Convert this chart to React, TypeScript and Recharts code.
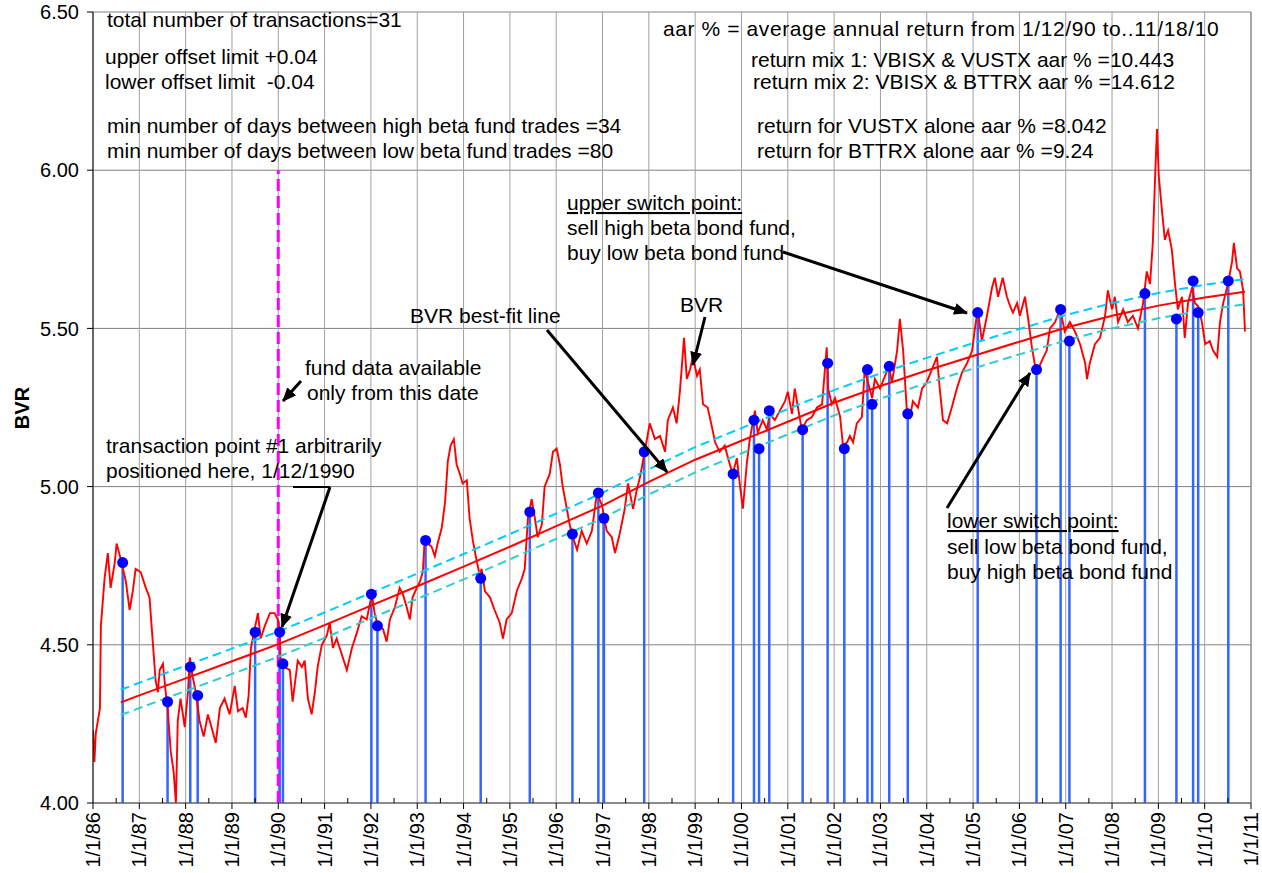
import React from "react";
import { ComposedChart, Line, Scatter, XAxis, YAxis, CartesianGrid, ReferenceLine } from "recharts";

// decimal year, BVR
const bvr: [number, number][] = [
  [1986.0, 4.23], [1986.03, 4.13], [1986.06, 4.22], [1986.15, 4.3], [1986.17, 4.56], [1986.25, 4.71], [1986.32, 4.79],
  [1986.38, 4.68], [1986.47, 4.76], [1986.51, 4.82], [1986.6, 4.77], [1986.71, 4.7], [1986.79, 4.61], [1986.86, 4.67],
  [1986.92, 4.74], [1987.03, 4.73], [1987.14, 4.68], [1987.22, 4.65], [1987.29, 4.51], [1987.35, 4.39], [1987.4, 4.35],
  [1987.44, 4.42], [1987.51, 4.44], [1987.57, 4.35], [1987.61, 4.3], [1987.68, 4.16], [1987.74, 4.1], [1987.79, 4.0],
  [1987.83, 4.26], [1987.89, 4.33], [1987.98, 4.24], [1988.05, 4.35], [1988.09, 4.46], [1988.15, 4.4], [1988.22, 4.35],
  [1988.3, 4.26], [1988.39, 4.21], [1988.48, 4.28], [1988.54, 4.25], [1988.65, 4.19], [1988.74, 4.3], [1988.84, 4.33],
  [1988.95, 4.28], [1989.06, 4.37], [1989.13, 4.29], [1989.23, 4.3], [1989.3, 4.27], [1989.36, 4.34], [1989.41, 4.49],
  [1989.49, 4.55], [1989.56, 4.6], [1989.62, 4.52], [1989.71, 4.56], [1989.82, 4.6], [1989.92, 4.6], [1989.99, 4.58],
  [1990.03, 4.54], [1990.05, 4.45], [1990.14, 4.43], [1990.25, 4.42], [1990.31, 4.32], [1990.42, 4.45], [1990.51, 4.43],
  [1990.57, 4.45], [1990.64, 4.33], [1990.72, 4.28], [1990.79, 4.35], [1990.85, 4.43], [1990.94, 4.5], [1991.05, 4.53],
  [1991.11, 4.57], [1991.18, 4.49], [1991.26, 4.52], [1991.37, 4.47], [1991.48, 4.42], [1991.59, 4.49], [1991.7, 4.54],
  [1991.8, 4.59], [1991.91, 4.58], [1992.02, 4.66], [1992.08, 4.6], [1992.15, 4.56], [1992.26, 4.55], [1992.34, 4.51],
  [1992.41, 4.58], [1992.52, 4.62], [1992.62, 4.68], [1992.69, 4.66], [1992.77, 4.62], [1992.84, 4.58], [1992.9, 4.65],
  [1992.99, 4.68], [1993.06, 4.7], [1993.12, 4.73], [1993.16, 4.83], [1993.23, 4.82], [1993.31, 4.81], [1993.38, 4.78],
  [1993.44, 4.82], [1993.53, 4.87], [1993.6, 4.95], [1993.66, 5.08], [1993.72, 5.13], [1993.79, 5.15], [1993.85, 5.07],
  [1993.92, 5.04], [1993.98, 5.01], [1994.07, 5.02], [1994.13, 4.9], [1994.2, 4.83], [1994.29, 4.76], [1994.35, 4.72],
  [1994.39, 4.74], [1994.46, 4.67], [1994.57, 4.65], [1994.67, 4.61], [1994.78, 4.57], [1994.85, 4.52], [1994.93, 4.58],
  [1995.04, 4.6], [1995.15, 4.67], [1995.26, 4.71], [1995.32, 4.74], [1995.39, 4.9], [1995.47, 4.96], [1995.54, 4.9],
  [1995.6, 4.84], [1995.69, 4.88], [1995.75, 5.0], [1995.86, 5.04], [1995.93, 5.11], [1996.01, 5.12], [1996.08, 5.07],
  [1996.14, 5.0], [1996.23, 4.93], [1996.29, 4.88], [1996.36, 4.84], [1996.45, 4.8], [1996.55, 4.86], [1996.66, 4.82],
  [1996.77, 4.86], [1996.88, 4.98], [1996.99, 4.94], [1997.09, 4.86], [1997.2, 4.84], [1997.27, 4.79], [1997.37, 4.85],
  [1997.48, 4.93], [1997.55, 5.01], [1997.66, 4.93], [1997.74, 4.99], [1997.81, 5.03], [1997.91, 5.11], [1998.02, 5.2],
  [1998.13, 5.15], [1998.24, 5.16], [1998.35, 5.11], [1998.41, 5.21], [1998.52, 5.25], [1998.6, 5.2], [1998.67, 5.3],
  [1998.76, 5.47], [1998.82, 5.34], [1998.89, 5.37], [1998.95, 5.41], [1999.04, 5.35], [1999.1, 5.37], [1999.17, 5.26],
  [1999.27, 5.25], [1999.36, 5.19], [1999.43, 5.14], [1999.53, 5.11], [1999.64, 5.13], [1999.71, 5.09], [1999.81, 5.04],
  [1999.9, 5.09], [1999.97, 5.0], [2000.03, 4.93], [2000.12, 5.08], [2000.18, 5.15], [2000.29, 5.24], [2000.35, 5.17],
  [2000.46, 5.21], [2000.55, 5.18], [2000.61, 5.23], [2000.72, 5.21], [2000.83, 5.24], [2000.94, 5.27], [2001.0, 5.3],
  [2001.09, 5.23], [2001.15, 5.31], [2001.22, 5.25], [2001.3, 5.18], [2001.41, 5.21], [2001.52, 5.22], [2001.63, 5.25],
  [2001.74, 5.26], [2001.84, 5.44], [2001.87, 5.31], [2001.95, 5.26], [2002.02, 5.28], [2002.13, 5.22], [2002.19, 5.13],
  [2002.28, 5.14], [2002.34, 5.16], [2002.41, 5.14], [2002.49, 5.2], [2002.6, 5.22], [2002.66, 5.37], [2002.73, 5.33],
  [2002.82, 5.28], [2002.88, 5.34], [2002.99, 5.31], [2003.1, 5.35], [2003.18, 5.38], [2003.25, 5.33], [2003.36, 5.43],
  [2003.42, 5.53], [2003.49, 5.43], [2003.57, 5.24], [2003.64, 5.22], [2003.7, 5.27], [2003.81, 5.25], [2003.9, 5.31],
  [2004.0, 5.33], [2004.11, 5.37], [2004.22, 5.41], [2004.28, 5.31], [2004.35, 5.21], [2004.44, 5.2], [2004.54, 5.25],
  [2004.65, 5.31], [2004.76, 5.36], [2004.87, 5.39], [2004.98, 5.43], [2005.04, 5.5], [2005.1, 5.56], [2005.19, 5.46],
  [2005.3, 5.54], [2005.41, 5.63], [2005.47, 5.66], [2005.54, 5.6], [2005.64, 5.66], [2005.73, 5.6], [2005.8, 5.57],
  [2005.86, 5.55], [2005.95, 5.58], [2006.01, 5.54], [2006.12, 5.6], [2006.18, 5.54], [2006.27, 5.44], [2006.34, 5.38],
  [2006.4, 5.37], [2006.49, 5.4], [2006.59, 5.43], [2006.66, 5.5], [2006.77, 5.52], [2006.88, 5.56], [2006.98, 5.49],
  [2007.09, 5.52], [2007.2, 5.49], [2007.31, 5.45], [2007.42, 5.39], [2007.46, 5.34], [2007.52, 5.39], [2007.63, 5.45],
  [2007.74, 5.47], [2007.85, 5.54], [2007.91, 5.62], [2008.0, 5.56], [2008.06, 5.6], [2008.13, 5.52], [2008.24, 5.56],
  [2008.34, 5.52], [2008.45, 5.54], [2008.56, 5.5], [2008.67, 5.58], [2008.75, 5.68], [2008.82, 5.64], [2008.88, 5.77],
  [2008.93, 5.98], [2008.97, 6.13], [2009.01, 5.98], [2009.08, 5.87], [2009.14, 5.78], [2009.21, 5.81], [2009.29, 5.75],
  [2009.36, 5.64], [2009.42, 5.56], [2009.51, 5.6], [2009.57, 5.47], [2009.64, 5.58], [2009.73, 5.63], [2009.79, 5.58],
  [2009.86, 5.57], [2009.94, 5.52], [2010.01, 5.45], [2010.11, 5.46], [2010.18, 5.43], [2010.27, 5.41], [2010.33, 5.52],
  [2010.4, 5.58], [2010.5, 5.64], [2010.59, 5.71], [2010.63, 5.77], [2010.7, 5.69], [2010.76, 5.68], [2010.83, 5.62],
  [2010.87, 5.49],
];

// best-fit line read at yearly points
const bestFit: [number, number][] = [
  [1986.6, 4.318], [1987, 4.34], [1988, 4.394], [1989, 4.448], [1990, 4.502], [1991, 4.562], [1992, 4.624],
  [1993, 4.685], [1994, 4.747], [1995, 4.81], [1996, 4.875], [1997, 4.94], [1998, 5.015], [1999, 5.085],
  [2000, 5.145], [2001, 5.205], [2002, 5.265], [2003, 5.318], [2004, 5.367], [2005, 5.413], [2006, 5.458],
  [2007, 5.502], [2008, 5.54], [2009, 5.572], [2010, 5.598], [2010.87, 5.616],
];

const UPPER_OFFSET = 0.04;
const LOWER_OFFSET = -0.04;

// transaction points
const trades: [number, number][] = [
  [1986.64, 4.76], [1987.61, 4.32], [1988.1, 4.43], [1988.26, 4.34], [1989.5, 4.54], [1990.03, 4.54],
  [1990.1, 4.44], [1992.01, 4.66], [1992.14, 4.56], [1993.18, 4.83], [1994.37, 4.71], [1995.43, 4.92],
  [1996.35, 4.85], [1996.91, 4.98], [1997.03, 4.9], [1997.9, 5.11], [1999.82, 5.04], [2000.27, 5.21],
  [2000.38, 5.12], [2000.6, 5.24], [2001.32, 5.18], [2001.86, 5.39], [2002.22, 5.12], [2002.72, 5.37],
  [2002.82, 5.26], [2003.19, 5.38], [2003.59, 5.23], [2005.1, 5.55], [2006.37, 5.37], [2006.89, 5.56],
  [2007.08, 5.46], [2008.71, 5.61], [2009.39, 5.53], [2009.75, 5.65], [2009.86, 5.55], [2010.51, 5.65],
];

const years = Array.from({ length: 26 }, (_, i) => 1986 + i);
const xTicks = Array.from({ length: 51 }, (_, i) => 1986 + i / 2);
const yTicks = [4, 4.5, 5, 5.5, 6, 6.5];
const dataStart = 1990;

const toPts = (a: [number, number][]) => a.map(([x, y]) => ({ x, y }));
const bvrData = toPts(bvr);
const fitData = toPts(bestFit);
const upperData = bestFit.map(([x, y]) => ({ x, y: y + UPPER_OFFSET }));
const lowerData = bestFit.map(([x, y]) => ({ x, y: y + LOWER_OFFSET }));
const tradeData = toPts(trades);

const FONT = "'Liberation Sans', Arial, sans-serif";

function XTick(props: any) {
  const { x, y, payload } = props;
  const v = payload.value as number;
  if (!Number.isInteger(v)) {
    return <line x1={x} y1={y} x2={x} y2={y - 5} stroke="#000" />;
  }
  const label = `1/1/${String(v).slice(2)}`;
  return (
    <g>
      <line x1={x} y1={y} x2={x} y2={y + 6} stroke="#000" />
      <text x={x - 9} y={y + 7} transform={`rotate(-90 ${x} ${y})`} textAnchor="end" fontSize={20} fill="#000" fontFamily={FONT}>
        {label}
      </text>
    </g>
  );
}

const Dot = (p: any) => <circle cx={p.cx} cy={p.cy} r={5.5} fill="#0000FF" />;

type Note = { x: number; y: number; t: string; u?: boolean; ls?: number };
const notes: Note[] = [
  { x: 107, y: 27, t: "total number of transactions=31" },
  { x: 105, y: 64, t: "upper offset limit +0.04" },
  { x: 105, y: 89, t: "lower offset limit  -0.04" },
  { x: 107, y: 133, t: "min number of days between high beta fund trades =34" },
  { x: 107, y: 158, t: "min number of days between low beta fund trades =80" },
  { x: 663, y: 36, t: "aar % = average annual return from 1/12/90 to..11/18/10", ls: 0.6 },
  { x: 751, y: 67, t: "return mix 1: VBISX & VUSTX aar % =10.443" },
  { x: 753, y: 89, t: "return mix 2: VBISX & BTTRX aar % =14.612" },
  { x: 757, y: 133, t: "return for VUSTX alone aar % =8.042" },
  { x: 757, y: 158, t: "return for BTTRX alone aar % =9.24" },
  { x: 567, y: 210, t: "upper switch point:", u: true },
  { x: 567, y: 235, t: "sell high beta bond fund," },
  { x: 567, y: 260, t: "buy low beta bond fund" },
  { x: 410, y: 323, t: "BVR best-fit line" },
  { x: 680, y: 312, t: "BVR" },
  { x: 305, y: 375, t: "fund data available" },
  { x: 307, y: 400, t: "only from this date" },
  { x: 106, y: 453, t: "transaction point #1 arbitrarily" },
  { x: 106, y: 478, t: "positioned here, 1/12/1990" },
  { x: 947, y: 528, t: "lower switch point:", u: true },
  { x: 947, y: 554, t: "sell low beta bond fund," },
  { x: 947, y: 579, t: "buy high beta bond fund" },
];

const arrows = [
  [783, 252, 967, 313],
  [547, 330, 667, 472],
  [705, 317, 693, 365],
  [301, 381, 283, 401],
  [330, 487, 282, 627],
  [947, 508, 1030, 373],
];

export default function App() {
  return (
    <div style={{ position: "absolute", left: 0, top: 0, width: 1262, height: 873, background: "#fff", fontFamily: FONT }}>
      <ComposedChart width={1262} height={873} margin={{ top: 12, right: 11, bottom: 0, left: 0 }}>
        <CartesianGrid vertical={false} stroke="#808080" />
        {years.map((yr) => (
          <ReferenceLine key={yr} x={yr} stroke="#a0a0a0" />
        ))}
        <ReferenceLine x={2011} stroke="#808080" />
        <XAxis
          dataKey="x"
          type="number"
          domain={[1986, 2011]}
          ticks={xTicks}
          interval={0}
          height={70}
          tickSize={0}
          tickMargin={0}
          tick={<XTick />}
          axisLine={{ stroke: "#555" }}
          allowDataOverflow
        />
        <YAxis
          dataKey="y"
          type="number"
          domain={[4, 6.5]}
          ticks={yTicks}
          width={93}
          tickSize={6}
          tickMargin={8}
          tickFormatter={(v: number) => v.toFixed(2)}
          tick={{ fill: "#000", fontSize: 20, fontFamily: FONT }}
          axisLine={{ stroke: "#000" }}
          tickLine={{ stroke: "#000" }}
          allowDataOverflow
        />
        {tradeData.map((d, i) => (
          <ReferenceLine key={"d" + i} segment={[{ x: d.x, y: 4 }, { x: d.x, y: d.y }]} stroke="#3366FF" strokeWidth={2.5} />
        ))}
        <ReferenceLine segment={[{ x: dataStart, y: 4 }, { x: dataStart, y: 6 }]} stroke="#FF00FF" strokeWidth={3} strokeDasharray="12 5" />
        <Line data={bvrData} dataKey="y" stroke="#FF0000" strokeWidth={1.9} dot={false} isAnimationActive={false} />
        <Line data={upperData} dataKey="y" stroke="#00CCFF" strokeWidth={2} strokeDasharray="9 5" dot={false} isAnimationActive={false} />
        <Line data={lowerData} dataKey="y" stroke="#33CCCC" strokeWidth={2} strokeDasharray="9 5" dot={false} isAnimationActive={false} />
        <Line data={fitData} dataKey="y" stroke="#FF0000" strokeWidth={2} dot={false} isAnimationActive={false} />
        <Scatter data={tradeData} dataKey="y" shape={Dot} isAnimationActive={false} />
      </ComposedChart>
      <svg width={1262} height={873} style={{ position: "absolute", left: 0, top: 0, pointerEvents: "none" }}>
        <defs>
          <marker id="ah" markerWidth="14" markerHeight="12" refX="13" refY="6" orient="auto" markerUnits="userSpaceOnUse">
            <path d="M0,0 L14,6 L0,12 z" fill="#000" />
          </marker>
        </defs>
        <text x={22} y={408} transform="rotate(-90 22 408)" textAnchor="middle" dy="0.35em" fontSize={20} fontWeight="bold" fontFamily={FONT}>
          BVR
        </text>
        {notes.map((n, i) => (
          <text
            key={i}
            x={n.x}
            y={n.y}
            fontSize={21}
            fontFamily={FONT}
            fill="#000"
            letterSpacing={n.ls}
            textDecoration={n.u ? "underline" : undefined}
            style={{ whiteSpace: "pre" }}
          >
            {n.t}
          </text>
        ))}
        <line x1={293} y1={487} x2={330} y2={487} stroke="#000" strokeWidth={2} />
        {arrows.map(([x1, y1, x2, y2], i) => (
          <line key={i} x1={x1} y1={y1} x2={x2} y2={y2} stroke="#000" strokeWidth={3} markerEnd="url(#ah)" />
        ))}
      </svg>
    </div>
  );
}
